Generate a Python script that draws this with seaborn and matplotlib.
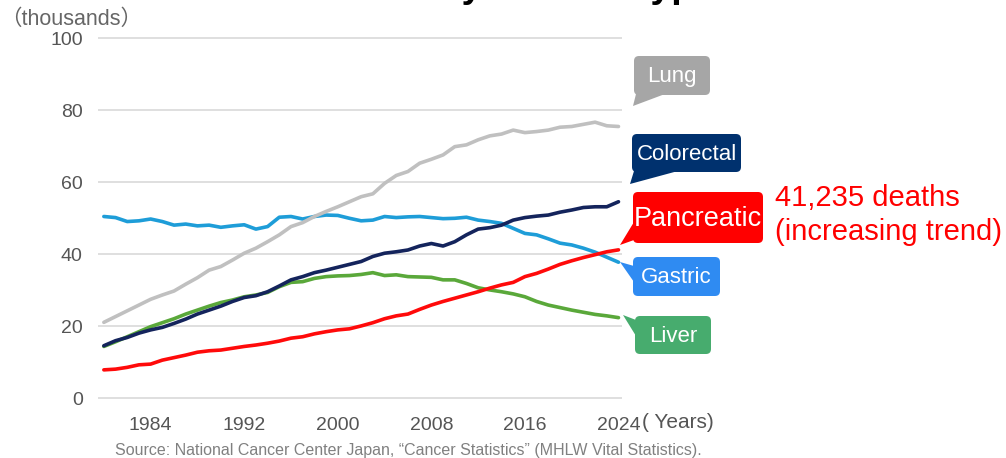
import numpy as np
import pandas as pd
import matplotlib
matplotlib.use("Agg")
import matplotlib.pyplot as plt
import matplotlib.transforms as mtransforms
from matplotlib.patches import FancyBboxPatch, Polygon
import seaborn as sns

# deaths by cancer type, thousands
years = list(range(1980, 2025))
gastric = [50.5, 50.2, 49.1, 49.3, 49.8, 49.1, 48.1, 48.4, 47.9, 48.1,
           47.5, 47.9, 48.2, 47.0, 47.7, 50.3, 50.5, 49.8, 50.5, 50.9,
           50.8, 50.0, 49.3, 49.5, 50.5, 50.2, 50.4, 50.5, 50.2, 49.9,
           50.0, 50.3, 49.5, 49.1, 48.6, 47.2, 45.8, 45.4, 44.3, 43.1,
           42.6, 41.7, 40.6, 39.2, 37.8]
lung = [21.1, 22.7, 24.3, 25.9, 27.5, 28.7, 29.8, 31.7, 33.5, 35.6,
        36.6, 38.4, 40.3, 41.7, 43.5, 45.4, 47.7, 48.8, 50.5, 51.9,
        53.2, 54.6, 56.0, 56.8, 59.7, 61.9, 63.0, 65.3, 66.4, 67.6,
        69.9, 70.4, 71.8, 72.9, 73.4, 74.5, 73.8, 74.1, 74.5, 75.3,
        75.5, 76.1, 76.7, 75.7, 75.5]
colorectal = [14.6, 16.0, 16.9, 18.1, 19.0, 19.7, 20.8, 22.0, 23.4, 24.5,
              25.6, 26.9, 28.0, 28.5, 29.6, 31.2, 32.9, 33.8, 34.9, 35.6,
              36.4, 37.2, 38.0, 39.4, 40.3, 40.7, 41.2, 42.3, 43.0, 42.3,
              43.5, 45.4, 47.0, 47.4, 48.1, 49.5, 50.2, 50.6, 50.9, 51.7,
              52.3, 53.0, 53.2, 53.2, 54.6]
liver = [14.4, 15.7, 17.1, 18.5, 19.9, 21.0, 22.1, 23.4, 24.5, 25.6,
         26.6, 27.3, 28.2, 28.7, 29.4, 31.0, 32.2, 32.4, 33.3, 33.8,
         34.0, 34.1, 34.4, 34.9, 34.1, 34.3, 33.8, 33.7, 33.6, 32.9,
         32.9, 31.9, 30.7, 30.1, 29.6, 29.0, 28.2, 26.9, 25.9, 25.2,
         24.5, 23.9, 23.3, 22.9, 22.4]
pancreatic = [7.9, 8.1, 8.6, 9.3, 9.5, 10.6, 11.3, 12.0, 12.8, 13.2,
              13.4, 13.9, 14.4, 14.8, 15.3, 15.9, 16.7, 17.1, 17.9, 18.5,
              19.0, 19.3, 20.1, 21.0, 22.1, 22.9, 23.4, 24.7, 25.9, 26.9,
              27.8, 28.7, 29.6, 30.6, 31.5, 32.2, 33.8, 34.7, 35.9, 37.2,
              38.2, 39.1, 39.9, 40.7, 41.235]

types = ["Gastric", "Lung", "Liver", "Colorectal", "Pancreatic"]
line_colors = ["#1E9DD8", "#C0C0C0", "#5AA83A", "#14245C", "#FF0A0A"]
x_ticks = [1984, 1992, 2000, 2008, 2016, 2024]
y_ticks = [0, 20, 40, 60, 80, 100]

W, H = 1006, 458

df = pd.DataFrame({
    "Year": years * 5,
    "Deaths": gastric + lung + liver + colorectal + pancreatic,
    "Type": [t for t in types for _ in years],
})

sns.set_theme(style="white")
plt.rcParams["font.family"] = ["Liberation Sans", "Noto Sans CJK JP", "DejaVu Sans"]

fig = plt.figure(figsize=(W / 100, H / 100), dpi=100)
# pixel coords measured from the top-left corner
pix = mtransforms.Affine2D().scale(1 / 100, -1 / 100).translate(0, H / 100) + fig.dpi_scale_trans

ax = fig.add_axes([98 / W, (H - 400.1) / H, 524 / W, 363.6 / H])
sns.lineplot(data=df, x="Year", y="Deaths", hue="Type", hue_order=types,
             palette=dict(zip(types, line_colors)), linewidth=2.6,
             legend=False, ax=ax)

ax.set_xlim(1979.5, 2024.3)
ax.set_ylim(-0.5, 100.5)
ax.set_xticks(x_ticks)
ax.set_yticks(y_ticks)
ax.set_xlabel("")
ax.set_ylabel("")
ax.yaxis.grid(True, color="#D9D9D9", linewidth=1.2)
ax.xaxis.grid(False)
sns.despine(ax=ax, left=True, bottom=True)
ax.tick_params(axis="y", length=0, pad=11, labelsize=14, labelcolor="#555555")
ax.tick_params(axis="x", length=0, pad=12, labelsize=14, labelcolor="#555555")

# title, mostly cut off at the top edge as in the reference
fig.text(105, -3, "Number of Deaths by Cancer Type", transform=pix, ha="left",
         va="baseline", fontsize=27, fontweight="bold", color="black")

fig.text(0, 19, "（thousands）", transform=pix, ha="left", va="center",
         fontsize=15.5, color="#666666")
fig.text(642, 423, "( Years)", transform=pix, ha="left", va="center",
         fontsize=15, color="#555555")

# callout boxes: label, colour, box (x0, y0, x1, y1), tail polygon, fontsize
callouts = [
    ("Lung", "#A6A6A6", (634, 56, 710, 95), [(636, 94), (665, 94), (633, 106)], 16),
    ("Colorectal", "#00316E", (632, 134, 741, 172), [(634, 171), (678, 171), (630, 184)], 16),
    ("Pancreatic", "#FF0000", (633, 192, 763, 243), [(634, 222), (634, 240), (620, 245)], 19.5),
    ("Gastric", "#2F8BF2", (633, 257, 720, 296), [(634, 266), (634, 282), (620, 262)], 16),
    ("Liver", "#47AC6E", (635, 316, 711, 354), [(636, 320), (636, 336), (623, 315)], 16),
]
for label, color, (x0, y0, x1, y1), tail, fs in callouts:
    box = FancyBboxPatch((x0, y0), x1 - x0, y1 - y0,
                         boxstyle="round,pad=0,rounding_size=5",
                         transform=pix, fc=color, ec="none", zorder=5)
    fig.add_artist(box)
    fig.add_artist(Polygon(tail, closed=True, transform=pix, fc=color,
                           ec="none", zorder=5))
    fig.text((x0 + x1) / 2, (y0 + y1) / 2 + 1, label, transform=pix,
             ha="center", va="center", fontsize=fs, color="white", zorder=6)

fig.text(775, 206, "41,235 deaths", transform=pix, ha="left", va="baseline",
         fontsize=21, color="#FF0000")
fig.text(775, 240, "(increasing trend)", transform=pix, ha="left", va="baseline",
         fontsize=21, color="#FF0000")

fig.text(408, 450, "Source: National Cancer Center Japan, \u201cCancer Statistics\u201d (MHLW Vital Statistics).",
         transform=pix, ha="center", va="center", fontsize=11.5, color="#808080")

fig.savefig("out.png", dpi=100)
